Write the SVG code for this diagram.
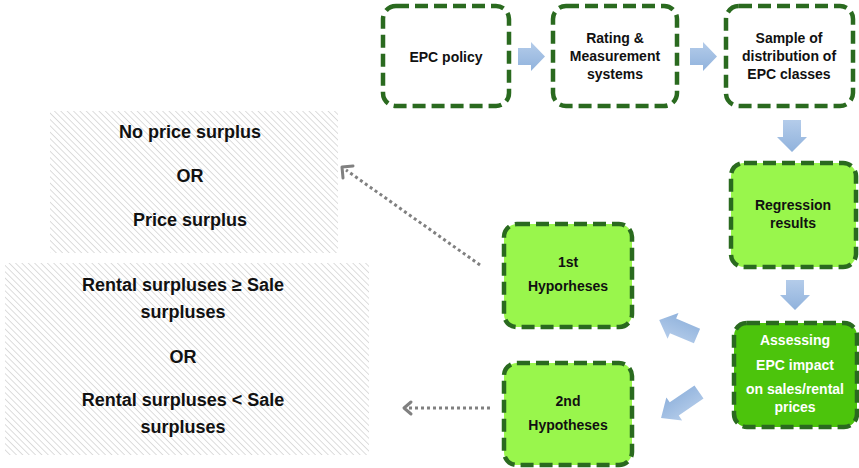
<svg xmlns="http://www.w3.org/2000/svg" width="859" height="468" viewBox="0 0 859 468">
<style>
.node{stroke:#2A6A1F;stroke-width:4.5;stroke-dasharray:13 6;stroke-linecap:butt}
.w{fill:#ffffff}
.lg{fill:#99F64C}
.dg{fill:#4CC40C}
.t{font-family:"Liberation Sans",Arial,sans-serif;font-weight:bold;font-size:14px;text-anchor:middle;fill:#111}
.tw{fill:#ffffff}
.g{font-family:"Liberation Sans",Arial,sans-serif;font-weight:bold;font-size:18px;text-anchor:middle;fill:#111}
.blk{fill:url(#bg)}
.dot{fill:none;stroke:#808080;stroke-width:3;stroke-dasharray:3 3}
.head{fill:none;stroke:#808080;stroke-width:3;stroke-linecap:round;stroke-linejoin:round}
</style>
<defs>
<pattern id="hatch" patternUnits="userSpaceOnUse" width="4.5" height="4.5" patternTransform="rotate(-45)">
<rect width="4.5" height="4.5" fill="#ffffff"/>
<line x1="0" y1="0" x2="0" y2="4.5" stroke="#d4d4d4" stroke-width="1.6"/>
</pattern>
<linearGradient id="bg" x1="0" y1="0" x2="0" y2="1">
<stop offset="0" stop-color="#B4CCEA"/>
<stop offset="1" stop-color="#90B2DC"/>
</linearGradient>
</defs>
<rect width="859" height="468" fill="#ffffff"/>

<g id="outcome1">
<rect x="50" y="111" width="288" height="142" fill="url(#hatch)"/>
<text class="g" x="190" y="138">No price surplus</text>
<text class="g" x="190" y="182">OR</text>
<text class="g" x="190" y="226">Price surplus</text>
</g>
<g id="outcome2">
<rect x="5" y="263" width="364" height="192" fill="url(#hatch)"/>
<text class="g" x="183" y="291">Rental surpluses ≥ Sale</text>
<text class="g" x="183" y="318">surpluses</text>
<text class="g" x="183" y="363">OR</text>
<text class="g" x="183" y="406">Rental surpluses &lt; Sale</text>
<text class="g" x="183" y="433">surpluses</text>
</g>

<g id="epc">
<rect class="node w" x="383" y="6" width="126" height="100" rx="13"/>
<text class="t" x="446" y="62">EPC policy</text>
</g>
<g id="rating">
<rect class="node w" x="553" y="6" width="124" height="100" rx="13"/>
<text class="t" x="615" y="43">Rating &amp;</text>
<text class="t" x="615" y="61">Measurement</text>
<text class="t" x="615" y="79">systems</text>
</g>
<g id="sample">
<rect class="node w" x="726" y="6" width="127" height="100" rx="13"/>
<text class="t" x="789" y="43">Sample of</text>
<text class="t" x="789" y="61">distribution of</text>
<text class="t" x="789" y="79">EPC classes</text>
</g>
<g id="regression">
<rect class="node lg" x="731" y="163" width="125" height="104" rx="13"/>
<text class="t" x="793" y="210">Regression</text>
<text class="t" x="793" y="228">results</text>
</g>
<g id="assessing">
<rect class="node dg" x="734" y="323" width="123" height="104" rx="13"/>
<text class="t tw" x="795" y="345">Assessing</text>
<text class="t tw" x="795" y="370">EPC impact</text>
<text class="t tw" x="795" y="394">on sales/rental</text>
<text class="t tw" x="795" y="412">prices</text>
</g>
<g id="hyp1">
<rect class="node lg" x="504" y="224" width="128" height="103" rx="13"/>
<text class="t" x="568" y="267">1st</text>
<text class="t" x="568" y="291">Hyporheses</text>
</g>
<g id="hyp2">
<rect class="node lg" x="504" y="363" width="128" height="102" rx="13"/>
<text class="t" x="568" y="406">2nd</text>
<text class="t" x="568" y="430">Hypotheses</text>
</g>

<g id="connectors">
<polygon class="blk" points="518,48 531,48 531,42 545,56.5 531,71 531,65 518,65"/>
<polygon class="blk" points="690,48 703,48 703,42 717,56.5 703,71 703,65 690,65"/>
<polygon class="blk" points="783,120 801,120 801,137 807,137 792,152 777,137 783,137"/>
<polygon class="blk" points="786,280 804,280 804,295 810,295 795,310 780,295 786,295"/>
<polygon class="blk" transform="translate(697,336) rotate(202.8)" points="0,-8 26,-8 26,-14 41,0 26,14 26,8 0,8"/>
<polygon class="blk" transform="translate(699,392) rotate(145.6)" points="0,-8 30,-8 30,-14 46,0 30,14 30,8 0,8"/>
<path class="dot" d="M480,265 L346,170"/>
<path class="head" d="M343,178 L342,167 L353,166"/>
<path class="dot" d="M490,408 L406,408"/>
<path class="head" d="M411,402 L404,408 L411,414"/>
</g>
</svg>
